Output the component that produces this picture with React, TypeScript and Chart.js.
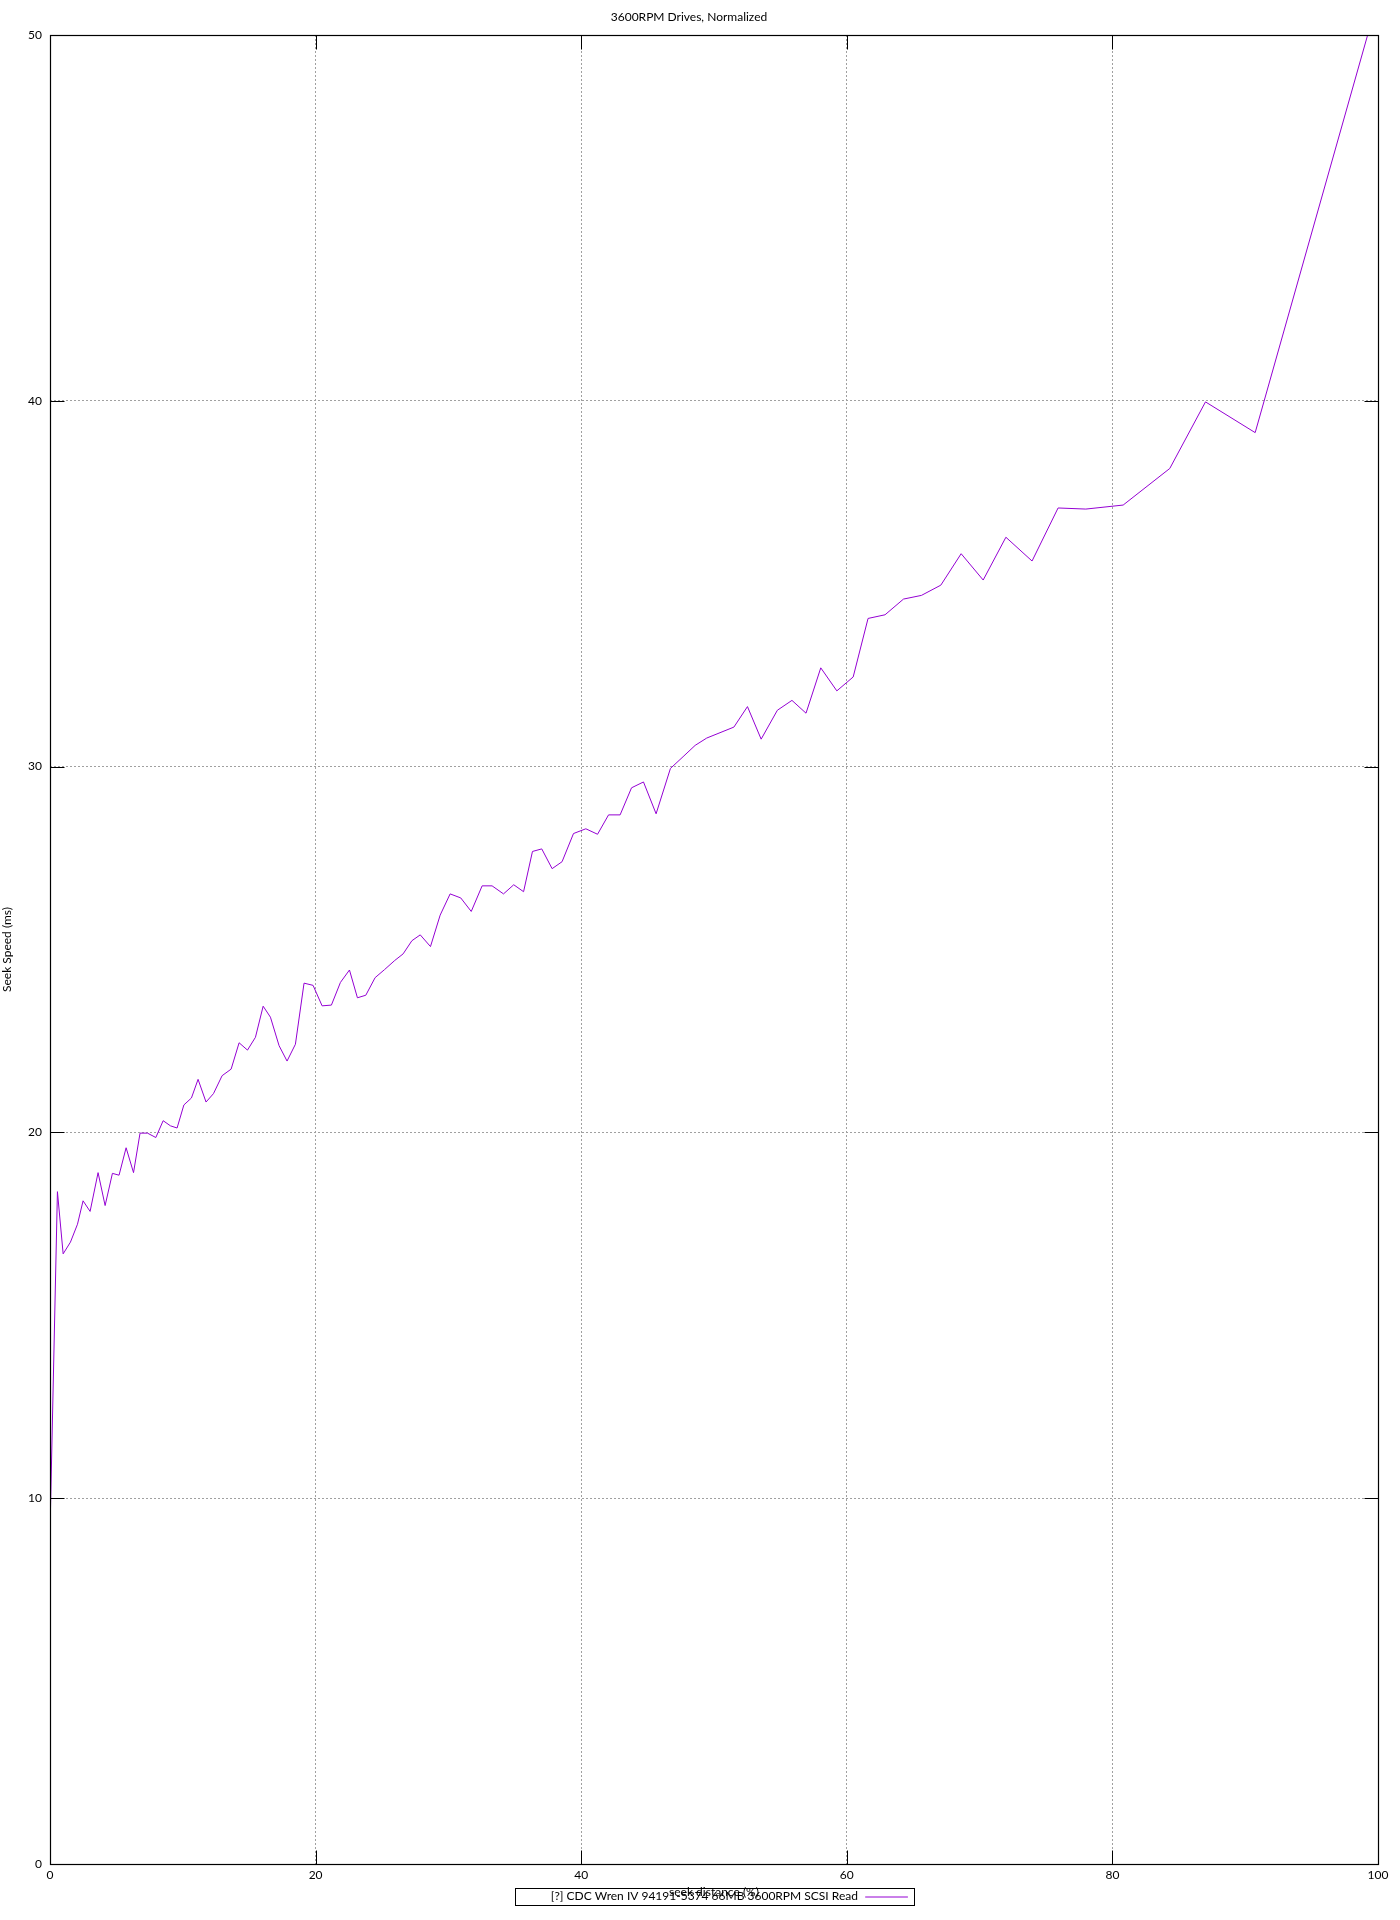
import React, { useEffect, useRef } from "react";
import { Chart, registerables } from "chart.js";

Chart.register(...registerables);

const chartTitle = "3600RPM Drives, Normalized";
const xAxisLabel = "seek distance (%)";
const yAxisLabel = "Seek Speed (ms)";
const seriesLabel = "[?] CDC Wren IV 94191-5374 66MB 3600RPM SCSI Read";

const xTicks = [0, 20, 40, 60, 80, 100];
const yTicks = [0, 10, 20, 30, 40, 50];

const seekDistance = [
  0, 0.56, 0.99, 1.54, 2.07, 2.49, 3.02, 3.62, 4.15, 4.7, 5.2, 5.73, 6.29, 6.78, 7.34, 7.97, 8.52,
  9.07, 9.57, 10.08, 10.65, 11.15, 11.75, 12.31, 12.96, 13.64, 14.24, 14.87, 15.47, 16.05, 16.6,
  17.25, 17.85, 18.48, 19.13, 19.81, 20.49, 21.19, 21.87, 22.55, 23.15, 23.78, 24.48, 25.19, 25.96,
  26.59, 27.25, 27.88, 28.65, 29.38, 30.13, 30.93, 31.72, 32.54, 33.29, 34.15, 34.92, 35.66, 36.33,
  37.03, 37.81, 38.56, 39.42, 40.35, 41.23, 42.06, 42.93, 43.79, 44.69, 45.64, 46.72, 47.67, 48.58,
  49.45, 51.5, 52.52, 53.55, 54.77, 55.87, 56.93, 58.04, 59.25, 60.48, 61.6, 62.88, 64.27, 65.62,
  67.08, 68.61, 70.27, 71.98, 73.95, 75.91, 78.0, 80.81, 84.32, 87.01, 90.75, 100,
];

const seekTime = [
  9.1, 18.38, 16.68, 17.0, 17.49, 18.13, 17.84, 18.9, 18.0, 18.88, 18.83, 19.58, 18.9, 19.98, 19.98,
  19.86, 20.32, 20.18, 20.12, 20.75, 20.94, 21.45, 20.83, 21.06, 21.55, 21.73, 22.45, 22.25, 22.6,
  23.45, 23.15, 22.37, 21.95, 22.41, 24.08, 24.02, 23.46, 23.48, 24.1, 24.44, 23.68, 23.75, 24.23,
  24.45, 24.7, 24.88, 25.24, 25.4, 25.08, 25.94, 26.52, 26.41, 26.04, 26.74, 26.74, 26.52, 26.77,
  26.58, 27.68, 27.75, 27.21, 27.4, 28.17, 28.3, 28.15, 28.68, 28.68, 29.42, 29.58, 28.71, 29.95,
  30.27, 30.58, 30.78, 31.08, 31.64, 30.75, 31.54, 31.81, 31.46, 32.7, 32.07, 32.45, 34.05, 34.15,
  34.58, 34.68, 34.96, 35.82, 35.1, 36.27, 35.62, 37.07, 37.04, 37.15, 38.15, 39.97, 39.13, 51.0,
];

const FONT = "Lato, 'Open Sans', 'DejaVu Sans', sans-serif";
const LINE_COLOR = "#9400d3";

const framePlugin = {
  id: "gnuplotFrame",
  afterDraw(chart: any) {
    const { ctx, chartArea: a, scales } = chart;
    const xs = scales.x;
    const ys = scales.y;
    const L = Math.round(a.left);
    const R = Math.round(a.right);
    const T = Math.round(a.top);
    const B = Math.round(a.bottom);
    ctx.save();
    ctx.strokeStyle = "#000";
    ctx.lineWidth = 1;
    ctx.setLineDash([]);
    ctx.beginPath();
    const tl = 14;
    xTicks.forEach((v) => {
      const px = Math.round(xs.getPixelForValue(v)) + 0.5;
      ctx.moveTo(px, B + 0.5);
      ctx.lineTo(px, B + 0.5 - tl);
      ctx.moveTo(px, T + 0.5);
      ctx.lineTo(px, T + 0.5 + tl);
    });
    yTicks.forEach((v) => {
      const py = Math.round(ys.getPixelForValue(v)) + 0.5;
      ctx.moveTo(L + 0.5, py);
      ctx.lineTo(L + 0.5 + tl, py);
      ctx.moveTo(R + 0.5, py);
      ctx.lineTo(R + 0.5 - tl, py);
    });
    ctx.stroke();
    ctx.lineWidth = 1.2;
    ctx.strokeRect(L + 0.5, T + 0.5, R - L, B - T);

    // legend (gnuplot style, below the plot)
    const boxW = 399;
    const cx = (a.left + a.right) / 2;
    const bx = Math.round(cx - boxW / 2) + 0.5;
    const by = 1888.5;
    const bh = 17;
    ctx.lineWidth = 1;
    ctx.strokeRect(bx, by, boxW, bh);
    ctx.font = `12px ${FONT}`;
    ctx.fillStyle = "#000";
    ctx.textAlign = "right";
    ctx.textBaseline = "middle";
    ctx.fillText(seriesLabel, bx + boxW - 56.6, 1896.5);
    ctx.strokeStyle = LINE_COLOR;
    ctx.beginPath();
    ctx.moveTo(bx + boxW - 49.3, 1897);
    ctx.lineTo(bx + boxW - 6.6, 1897);
    ctx.stroke();
    ctx.restore();
  },
};

export default function App() {
  const ref = useRef<HTMLCanvasElement | null>(null);

  useEffect(() => {
    document.body.style.margin = "0";
    const canvas = ref.current;
    if (!canvas) return;
    const gridColor = (ctx: any) => {
      const v = ctx.tick ? ctx.tick.value : null;
      const s = ctx.scale;
      if (v === s.min || v === s.max) return "rgba(0,0,0,0)";
      return "#a0a0a0";
    };
    const chart = new Chart(canvas, {
      type: "line",
      data: {
        datasets: [
          {
            label: seriesLabel,
            data: seekDistance.map((x, i) => ({ x, y: seekTime[i] })),
            borderColor: LINE_COLOR,
            backgroundColor: LINE_COLOR,
            borderWidth: 1,
            pointRadius: 0,
            tension: 0,
            fill: false,
          },
        ],
      },
      options: {
        responsive: false,
        animation: false,
        devicePixelRatio: 1,
        layout: { padding: { top: 0, left: 0, right: 22, bottom: 0 } },
        plugins: {
          legend: { display: false },
          tooltip: { enabled: false },
          title: {
            display: true,
            text: chartTitle,
            color: "#000",
            font: { family: FONT, size: 12, weight: "normal" as any, lineHeight: 1.2 },
            padding: { top: 9.5, bottom: 11.1 },
          },
        },
        scales: {
          x: {
            type: "linear",
            position: "bottom",
            min: 0,
            max: 100,
            afterBuildTicks: (s: any) => {
              s.ticks = xTicks.map((v) => ({ value: v }));
            },
            afterFit: (s: any) => {
              s.height = 56;
            },
            ticks: {
              color: "#000",
              padding: 4,
              maxRotation: 0,
              autoSkip: false,
              font: { family: FONT, size: 12 },
            },
            grid: { color: gridColor, lineWidth: 1, drawTicks: false },
            border: { display: false, dash: [2, 2] },
            title: {
              display: true,
              text: xAxisLabel,
              color: "#000",
              font: { family: FONT, size: 12, lineHeight: 1.2 },
              padding: { top: 0, bottom: 20.8 },
            },
          },
          y: {
            type: "linear",
            position: "left",
            min: 0,
            max: 50,
            afterBuildTicks: (s: any) => {
              s.ticks = yTicks.map((v) => ({ value: v }));
            },
            afterFit: (s: any) => {
              s.width = 50;
            },
            ticks: {
              color: "#000",
              padding: 8,
              autoSkip: false,
              font: { family: FONT, size: 12 },
            },
            grid: { color: gridColor, lineWidth: 1, drawTicks: false },
            border: { display: false, dash: [2, 2] },
            title: {
              display: true,
              text: yAxisLabel,
              color: "#000",
              font: { family: FONT, size: 12, lineHeight: 1.2 },
              padding: { top: 0, bottom: 0 },
            },
          },
        },
      },
      plugins: [framePlugin],
    } as any);
    return () => chart.destroy();
  }, []);

  return <canvas ref={ref} width={1400} height={1920} style={{ display: "block" }} />;
}
